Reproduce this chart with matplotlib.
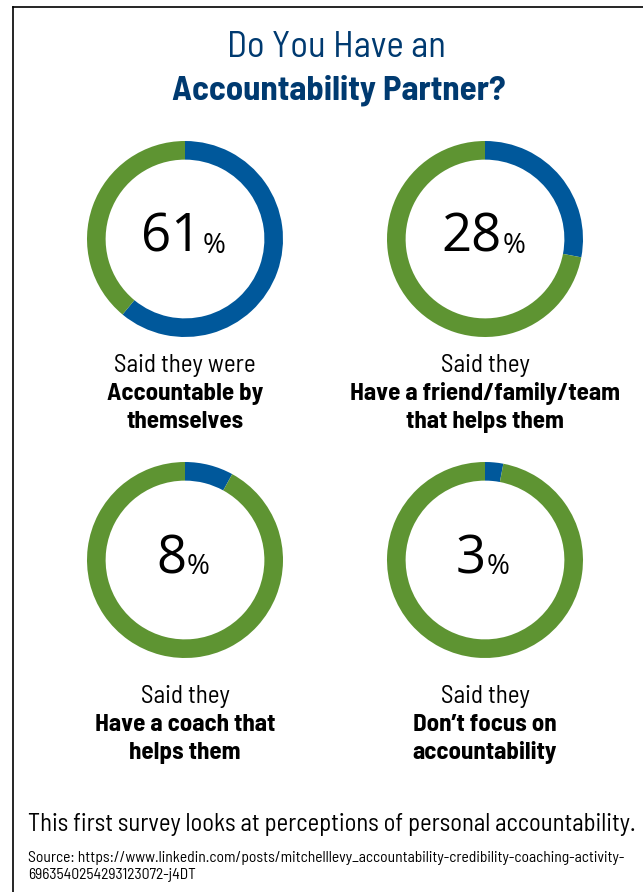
import matplotlib
matplotlib.use("Agg")
import matplotlib.pyplot as plt
from matplotlib.lines import Line2D

# data
percents = [61, 28, 8, 3]
lead_lines = ["Said they were", "Said they", "Said they", "Said they"]
bold_lines = [
    ["Accountable by", "themselves"],
    ["Have a friend/family/team", "that helps them"],
    ["Have a coach that", "helps them"],
    ["Don\u2019t focus on", "accountability"],
]
title_top = "Do You Have an"
title_bold = "Accountability Partner?"
footnote = "This first survey looks at perceptions of personal accountability."
source = ["Source: https://www.linkedin.com/posts/mitchelllevy_accountability-credibility-coaching-activity-",
          "6963540254293123072-j4DT"]

BLUE = "#00589b"
GREEN = "#5e9432"
NAVY = "#003a70"
NARROW = ["Barlow Semi Condensed", "DejaVu Sans"]
NUMFONT = ["Open Sans", "DejaVu Sans"]

W, H = 643, 892
fig = plt.figure(figsize=(W / 100, H / 100), dpi=100)

def fx(px):
    return px / W

def fy(py):
    return 1 - py / H

# frame lines (top and left)
fig.add_artist(Line2D([fx(13), 1], [fy(7), fy(7)], color="black", lw=1.2))
fig.add_artist(Line2D([fx(13), fx(13)], [fy(7), 0], color="black", lw=1.2))

fig.text(fx(336), fy(57), title_top, ha="center", va="baseline", fontsize=26.5,
         color=NAVY, family=NARROW)
fig.text(fx(339), fy(100), title_bold, ha="center", va="baseline", fontsize=25,
         color=NAVY, family=NARROW, weight="bold")

centers = [(185, 239), (485, 239), (185, 560), (485, 560)]
label_base = [372, 372, 703, 703]
R = 98

renderer = fig.canvas.get_renderer()
for i, p in enumerate(percents):
    cx, cy = centers[i]
    ax = fig.add_axes([fx(cx - R), fy(cy + R), fx(2 * R), 2 * R / H])
    ax.pie([p, 100 - p], colors=[BLUE, GREEN], startangle=90, counterclock=False,
           wedgeprops=dict(width=0.19, linewidth=0))
    ax.set_xlim(-1, 1)
    ax.set_ylim(-1, 1)
    ax.set_aspect("equal")
    ax.axis("off")

    num = fig.text(fx(cx), fy(cy + 13), str(p), ha="left", va="baseline",
                   fontsize=38, family=NUMFONT, color="black")
    pct = fig.text(fx(cx), fy(cy + 14), "%", ha="left", va="baseline",
                   fontsize=20, family=NUMFONT, color="black")
    wn = num.get_window_extent(renderer).width
    wp = pct.get_window_extent(renderer).width
    gap = 1
    total = wn + wp + gap
    x0 = cx - total / 2 - 2
    num.set_x(fx(x0))
    pct.set_x(fx(x0 + wn + gap))

    b = label_base[i]
    fig.text(fx(cx), fy(b), lead_lines[i], ha="center", va="baseline",
             fontsize=18, family=NARROW, color="black")
    for k, line in enumerate(bold_lines[i]):
        fig.text(fx(cx), fy(b + 28 * (k + 1)), line, ha="center", va="baseline",
                 fontsize=18, family=NARROW, weight="bold", color="black")

fig.text(fx(28), fy(831), footnote, ha="left", va="baseline", fontsize=17.7,
         family=NARROW, color="black")
for k, line in enumerate(source):
    fig.text(fx(28), fy(862 + 17 * k), line, ha="left", va="baseline", fontsize=11.2,
             family=NARROW, color="black")

fig.savefig("out.png", dpi=100)
